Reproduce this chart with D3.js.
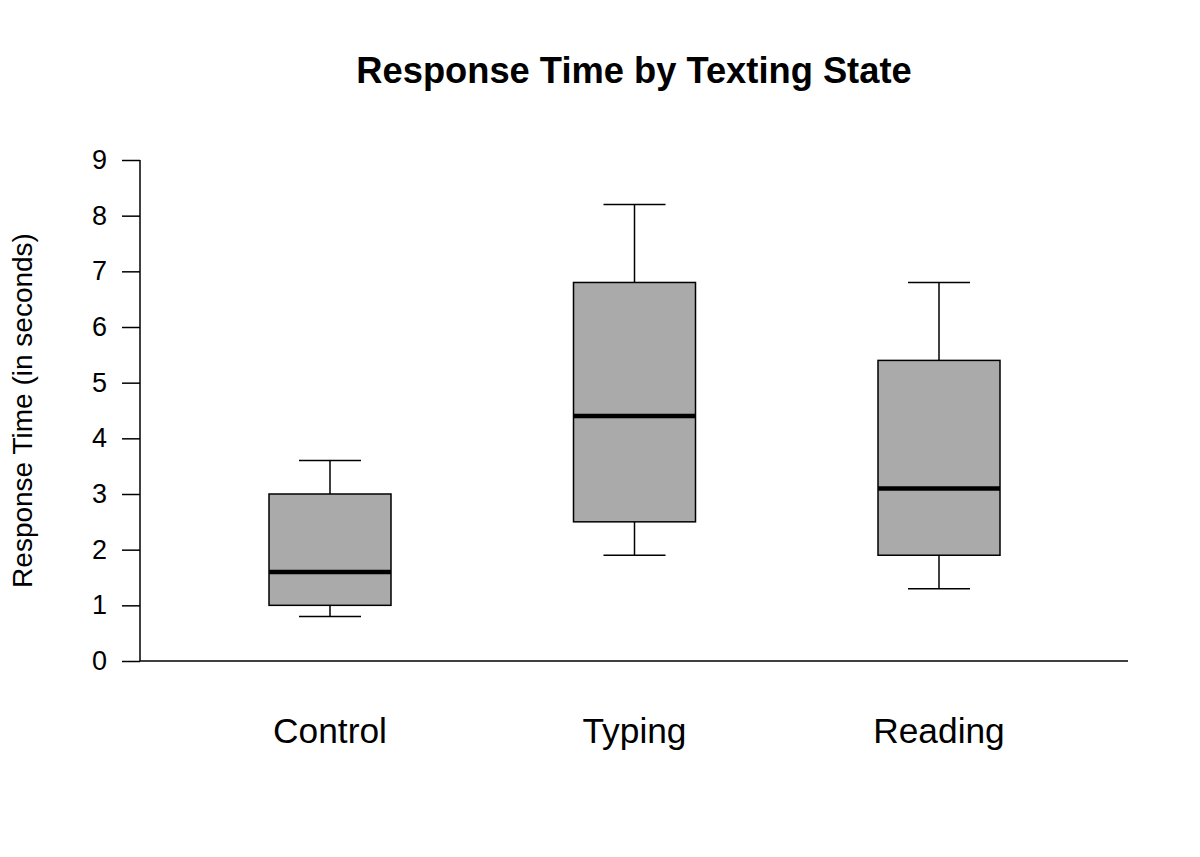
<!DOCTYPE html>
<html><head><meta charset="utf-8">
<script src="https://cdn.jsdelivr.net/npm/d3@7"></script>
<style>body{margin:0;background:#fff;} svg{display:block;font-family:"Liberation Sans",Arial,sans-serif;}</style>
</head><body>
<script>
const categories = ["Control", "Typing", "Reading"];
const mins    = [0.8, 1.9, 1.3];
const q1s     = [1.0, 2.5, 1.9];
const medians = [1.6, 4.4, 3.1];
const q3s     = [3.0, 6.8, 5.4];
const maxs    = [3.6, 8.2, 6.8];
const yTicks  = [0,1,2,3,4,5,6,7,8,9];

const W = 1200, H = 857;
const svg = d3.select("body").append("svg").attr("width", W).attr("height", H);
svg.append("rect").attr("width", W).attr("height", H).attr("fill", "#fff");

const y = d3.scaleLinear().domain([0, 9]).range([661, 160]);
const x = d3.scalePoint().domain(categories).range([330, 939]);
const boxHalf = 61, capHalf = 31;

const data = categories.map((c, i) => ({c, min: mins[i], q1: q1s[i], med: medians[i], q3: q3s[i], max: maxs[i]}));

// title
svg.append("text").attr("x", 634).attr("y", 83).attr("text-anchor", "middle")
  .attr("font-size", 36.3).attr("font-weight", "bold").text("Response Time by Texting State");

// y axis
const yAxis = d3.axisLeft(y).tickValues(yTicks).tickSize(18).tickPadding(15).tickFormat(d3.format("d"));
const gy = svg.append("g").attr("transform", "translate(140,0)").call(yAxis);
gy.select(".domain").remove();
gy.selectAll(".tick line").attr("stroke", "#000").attr("stroke-width", 1.5);
gy.selectAll(".tick text").attr("font-size", 27).attr("fill", "#000").attr("font-family", "Liberation Sans, Arial, sans-serif");
svg.append("line").attr("x1", 140).attr("x2", 140).attr("y1", y(9)).attr("y2", y(0)).attr("stroke", "#000").attr("stroke-width", 1.5);
svg.append("line").attr("x1", 140).attr("x2", 1128).attr("y1", y(0)).attr("y2", y(0)).attr("stroke", "#000").attr("stroke-width", 1.5);

// y label
svg.append("text").attr("transform", `translate(32,${(y(0)+y(9))/2}) rotate(-90)`).attr("text-anchor", "middle")
  .attr("font-size", 28).text("Response Time (in seconds)");

// category labels
svg.selectAll(".cat").data(categories).join("text").attr("class", "cat")
  .attr("x", d => x(d)).attr("y", 743).attr("text-anchor", "middle").attr("font-size", 35.3).text(d => d);

// boxes
const g = svg.selectAll(".box").data(data).join("g").attr("class", "box");
g.append("line").attr("x1", d => x(d.c)).attr("x2", d => x(d.c)).attr("y1", d => y(d.max)).attr("y2", d => y(d.q3)).attr("stroke", "#000").attr("stroke-width", 1.5);
g.append("line").attr("x1", d => x(d.c)).attr("x2", d => x(d.c)).attr("y1", d => y(d.q1)).attr("y2", d => y(d.min)).attr("stroke", "#000").attr("stroke-width", 1.5);
g.append("line").attr("x1", d => x(d.c)-capHalf).attr("x2", d => x(d.c)+capHalf).attr("y1", d => y(d.max)).attr("y2", d => y(d.max)).attr("stroke", "#000").attr("stroke-width", 1.5);
g.append("line").attr("x1", d => x(d.c)-capHalf).attr("x2", d => x(d.c)+capHalf).attr("y1", d => y(d.min)).attr("y2", d => y(d.min)).attr("stroke", "#000").attr("stroke-width", 1.5);
g.append("rect").attr("x", d => x(d.c)-boxHalf).attr("width", boxHalf*2)
  .attr("y", d => y(d.q3)).attr("height", d => y(d.q1)-y(d.q3))
  .attr("fill", "#aaaaaa").attr("stroke", "#000").attr("stroke-width", 1.5);
g.append("line").attr("x1", d => x(d.c)-boxHalf).attr("x2", d => x(d.c)+boxHalf).attr("y1", d => y(d.med)).attr("y2", d => y(d.med)).attr("stroke", "#000").attr("stroke-width", 4.5);
</script>
</body></html>
